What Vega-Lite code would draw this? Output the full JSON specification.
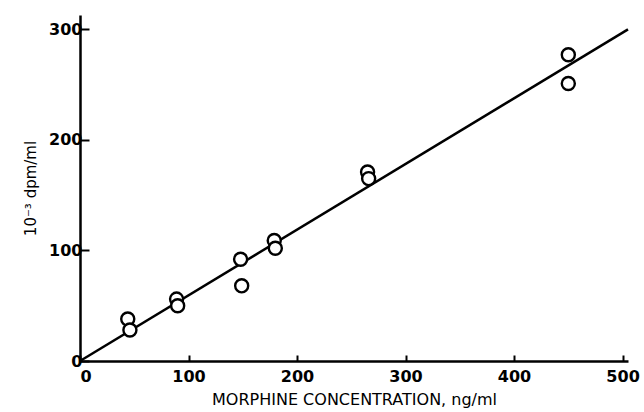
{
  "$schema": "https://vega.github.io/schema/vega-lite/v6.json",
  "width": 548,
  "height": 346,
  "autosize": {"type": "none"},
  "padding": {"left": 80, "top": 15, "right": 16, "bottom": 51},
  "background": "white",
  "config": {"view": {"stroke": null}, "font": "DejaVu Sans"},
  "datasets": {
    "pts": [
      {"conc": 44, "dpm": 38}, {"conc": 46, "dpm": 28},
      {"conc": 89, "dpm": 56}, {"conc": 90, "dpm": 50},
      {"conc": 148, "dpm": 92}, {"conc": 149, "dpm": 68},
      {"conc": 179, "dpm": 109}, {"conc": 180, "dpm": 102},
      {"conc": 265, "dpm": 171}, {"conc": 266, "dpm": 165},
      {"conc": 450, "dpm": 277}, {"conc": 450, "dpm": 251}
    ],
    "fit": [{"conc": 0, "dpm": 0}, {"conc": 505, "dpm": 300}]
  },
  "layer": [
    {
      "data": {"name": "fit"},
      "mark": {"type": "line", "color": "black", "strokeWidth": 2.5},
      "encoding": {
        "x": {"field": "conc", "type": "quantitative", "scale": {"domain": [0, 505], "nice": false},
          "axis": {"values": [0, 100, 200, 300, 400, 500], "title": "MORPHINE CONCENTRATION, ng/ml",
            "grid": false, "domainColor": "black", "domainWidth": 2.5, "tickColor": "black", "tickWidth": 2, "tickSize": -6,
            "labelPadding": 13, "labelFontSize": 16, "labelFontWeight": "bold", "labelColor": "black",
            "titleFontSize": 16, "titleFontWeight": "normal", "titleColor": "black", "titlePadding": 7}},
        "y": {"field": "dpm", "type": "quantitative", "scale": {"domain": [0, 313], "nice": false},
          "axis": {"values": [0, 100, 200, 300], "title": "10⁻³ dpm/ml",
            "grid": false, "domainColor": "black", "domainWidth": 2.5, "tickColor": "black", "tickWidth": 2, "tickSize": -9,
            "labelPadding": 7, "labelFontSize": 16, "labelFontWeight": "bold", "labelColor": "black",
            "titleFontSize": 15, "titleFontWeight": "normal", "titleColor": "black", "titlePadding": 10}}
      }
    },
    {
      "data": {"name": "pts"},
      "mark": {"type": "point", "shape": "circle", "size": 170, "filled": false, "fill": "white", "fillOpacity": 1, "stroke": "black", "strokeWidth": 2.4, "opacity": 1},
      "encoding": {
        "x": {"field": "conc", "type": "quantitative"},
        "y": {"field": "dpm", "type": "quantitative"}
      }
    }
  ]
}
